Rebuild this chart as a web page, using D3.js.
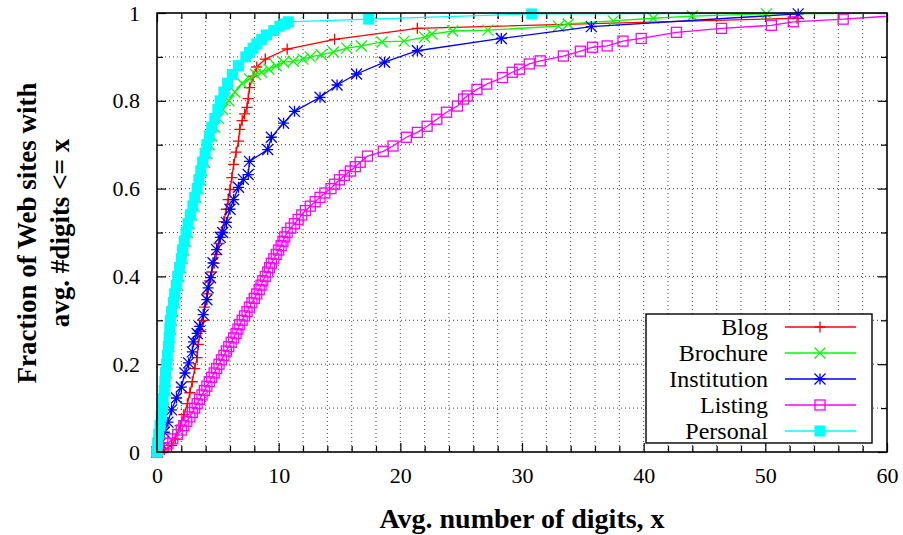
<!DOCTYPE html>
<html><head><meta charset="utf-8">
<script src="https://cdn.jsdelivr.net/npm/d3@7"></script>
<style>body{margin:0;background:#fff}svg{display:block}svg text{font-family:"Liberation Serif","Tinos","DejaVu Serif","Noto Serif","Times New Roman",Times,serif !important}</style>
</head><body><svg id="c" width="903" height="535"></svg>
<script>
const seriesNames = ["Blog","Brochure","Institution","Listing","Personal"];
const seriesColors = ["#ff0000","#00ff00","#0000ff","#ff00ff","#00ffff"];
const xTicks = [0,10,20,30,40,50,60];
const yTicks = [0,0.2,0.4,0.6,0.8,1];
const yTickLabels = ["0","0.2","0.4","0.6","0.8","1"];

const blog = [[0,0],[0.6,0.005],[1.2,0.015],[1.5,0.03],[1.9,0.06],[2.2,0.085],[2.5,0.11],[2.7,0.135],[2.9,0.16],[3.1,0.19],[3.3,0.215],[3.4,0.245],[3.6,0.275],[3.8,0.3],[3.9,0.33],[4.1,0.36],[4.3,0.39],[4.5,0.41],[4.7,0.43],[4.9,0.45],[5.1,0.475],[5.3,0.5],[5.5,0.525],[5.7,0.553],[5.85,0.575],[6.0,0.598],[6.15,0.625],[6.3,0.655],[6.5,0.683],[6.7,0.708],[6.8,0.735],[7.0,0.755],[7.2,0.77],[7.4,0.785],[7.5,0.805],[7.6,0.83],[7.9,0.856],[8.2,0.877],[8.9,0.895],[10.7,0.918],[14.6,0.94],[21.4,0.965],[52.6,0.988]];

const brochure = [[0,0],[0.1,0.02],[0.2,0.04],[0.3,0.06],[0.4,0.08],[0.5,0.1],[0.55,0.12],[0.65,0.14],[0.7,0.16],[0.75,0.18],[0.85,0.2],[0.9,0.22],[1.0,0.24],[1.05,0.26],[1.1,0.28],[1.2,0.3],[1.3,0.32],[1.45,0.34],[1.55,0.36],[1.7,0.38],[1.8,0.4],[1.95,0.42],[2.1,0.44],[2.2,0.46],[2.35,0.48],[2.5,0.5],[2.65,0.52],[2.85,0.54],[3.05,0.56],[3.2,0.58],[3.4,0.6],[3.55,0.62],[3.7,0.64],[3.9,0.66],[4.1,0.68],[4.3,0.7],[4.5,0.72],[4.75,0.74],[5.05,0.76],[5.4,0.78],[5.9,0.8],[6.4,0.82],[7.0,0.84],[7.6,0.85],[8.1,0.86],[8.6,0.865],[9.2,0.872],[9.8,0.88],[10.4,0.888],[11.2,0.89],[12.0,0.895],[12.6,0.9],[13.5,0.905],[14.5,0.911],[15.6,0.92],[16.8,0.925],[18.5,0.934],[20.3,0.936],[22.0,0.945],[22.6,0.952],[24.3,0.959],[27.2,0.961],[33.0,0.97],[33.8,0.975],[37.5,0.982],[40.8,0.988],[44.0,0.993],[50.1,0.998],[70,1]];

const institution = [[0,0],[0.3,0.02],[0.6,0.045],[0.9,0.068],[1.2,0.096],[1.6,0.123],[2.0,0.148],[2.3,0.18],[2.6,0.203],[2.9,0.228],[3.0,0.251],[3.3,0.27],[3.5,0.286],[3.8,0.313],[4.1,0.347],[4.2,0.374],[4.4,0.397],[4.6,0.431],[4.9,0.461],[5.2,0.489],[5.4,0.5],[5.7,0.523],[6.0,0.553],[6.3,0.575],[6.7,0.603],[7.1,0.621],[7.5,0.632],[7.6,0.662],[9.1,0.689],[9.4,0.717],[10.4,0.749],[11.3,0.776],[13.4,0.808],[14.8,0.836],[16.4,0.861],[18.7,0.888],[21.4,0.914],[28.3,0.942],[35.7,0.969],[52.7,0.998]];

const listing = [[0,0],[0.5,0.01],[0.9,0.02],[1.3,0.03],[1.7,0.04],[2.0,0.05],[2.2,0.06],[2.45,0.07],[2.7,0.08],[2.9,0.09],[3.1,0.1],[3.3,0.11],[3.5,0.12],[3.7,0.13],[3.9,0.14],[4.1,0.15],[4.3,0.16],[4.5,0.17],[4.7,0.18],[4.9,0.19],[5.1,0.2],[5.3,0.21],[5.5,0.22],[5.7,0.23],[5.9,0.24],[6.1,0.25],[6.3,0.26],[6.5,0.27],[6.65,0.28],[6.8,0.29],[7.0,0.3],[7.2,0.31],[7.4,0.32],[7.6,0.33],[7.8,0.34],[8.0,0.35],[8.2,0.36],[8.4,0.37],[8.55,0.38],[8.7,0.39],[8.9,0.4],[9.1,0.41],[9.25,0.42],[9.4,0.43],[9.6,0.44],[9.8,0.45],[10.0,0.46],[10.2,0.47],[10.35,0.48],[10.5,0.49],[10.7,0.5],[11.0,0.51],[11.3,0.52],[11.6,0.53],[11.9,0.54],[12.2,0.55],[12.6,0.56],[13.0,0.57],[13.4,0.58],[13.8,0.59],[14.3,0.6],[14.6,0.61],[15.0,0.62],[15.4,0.63],[15.9,0.64],[16.3,0.65],[16.7,0.66],[17.3,0.674],[18.6,0.685],[19.4,0.697],[20.5,0.717],[21.4,0.728],[22.2,0.742],[23.0,0.758],[23.8,0.774],[24.7,0.788],[25.2,0.804],[25.5,0.811],[26.3,0.826],[27.1,0.838],[28.4,0.853],[29.2,0.865],[29.8,0.872],[30.6,0.884],[31.5,0.891],[33.4,0.902],[34.8,0.913],[35.8,0.922],[37.0,0.925],[38.3,0.936],[39.8,0.942],[42.7,0.956],[46.4,0.965],[50.5,0.972],[52.3,0.98],[56.4,0.986],[64,1]];

const personal = [[0,0],[0.05,0.02],[0.15,0.04],[0.25,0.06],[0.35,0.08],[0.45,0.1],[0.5,0.12],[0.6,0.14],[0.65,0.16],[0.7,0.18],[0.8,0.2],[0.85,0.22],[0.95,0.24],[1.0,0.26],[1.05,0.28],[1.1,0.3],[1.2,0.32],[1.35,0.34],[1.45,0.36],[1.6,0.38],[1.7,0.4],[1.85,0.42],[2.0,0.44],[2.1,0.46],[2.25,0.48],[2.4,0.5],[2.55,0.52],[2.75,0.54],[2.95,0.56],[3.1,0.58],[3.3,0.6],[3.45,0.62],[3.6,0.64],[3.75,0.66],[3.95,0.68],[4.1,0.7],[4.3,0.72],[4.5,0.74],[4.75,0.76],[5.0,0.78],[5.2,0.8],[5.5,0.82],[5.8,0.84],[6.2,0.86],[6.7,0.88],[7.3,0.9],[7.6,0.91],[7.9,0.92],[8.2,0.93],[8.6,0.94],[9.0,0.95],[9.6,0.96],[10.1,0.97],[10.5,0.975],[10.8,0.98],[17.4,0.986],[30.8,0.998],[70,1]];

const allSeries = [blog, brochure, institution, listing, personal];
const markerTypes = ["plus","cross","star","square","fsquare"];

const svg = d3.select("#c");
const L=157, R=887, T=13, B=452;
const x = d3.scaleLinear().domain([0,60]).range([L,R]);
const y = d3.scaleLinear().domain([0,1]).range([B,T]);
const FONT = "'Liberation Serif','Tinos','DejaVu Serif','Noto Serif','Times New Roman',Times,serif";

const gx = d3.range(0,61,2), gy = d3.range(0,1.01,0.1);
const grid = svg.append("g").attr("stroke","#444").attr("stroke-width",1).attr("stroke-dasharray","1,3");
gx.filter(v=>v>0&&v<60).forEach(v=>grid.append("line").attr("x1",x(v)).attr("x2",x(v)).attr("y1",T).attr("y2",B));
gy.filter(v=>v>0.01&&v<0.99).forEach(v=>grid.append("line").attr("x1",L).attr("x2",R).attr("y1",y(v)).attr("y2",y(v)));

const fmtY = d => yTickLabels[yTicks.findIndex(t=>Math.abs(t-d)<1e-9)];
const ax = (g,axis)=>{g.call(axis);g.attr("font-family",FONT);g.select(".domain").remove();g.selectAll("line").attr("stroke","#000").attr("stroke-width",1.2);};
svg.append("g").attr("transform",`translate(0,${B})`).call(g=>ax(g,d3.axisBottom(x).tickValues(xTicks).tickSize(-9).tickPadding(15).tickFormat(d3.format("d"))));
svg.append("g").attr("transform",`translate(0,${B})`).call(g=>ax(g,d3.axisBottom(x).tickValues(gx.filter(v=>v%10)).tickSize(-6).tickFormat("")));
svg.append("g").attr("transform",`translate(0,${T})`).call(g=>ax(g,d3.axisTop(x).tickValues(xTicks).tickSize(-9).tickFormat("")));
svg.append("g").attr("transform",`translate(0,${T})`).call(g=>ax(g,d3.axisTop(x).tickValues(gx.filter(v=>v%10)).tickSize(-6).tickFormat("")));
svg.append("g").attr("transform",`translate(${L},0)`).call(g=>ax(g,d3.axisLeft(y).tickValues(yTicks).tickSize(-9).tickPadding(17).tickFormat(fmtY)));
svg.append("g").attr("transform",`translate(${L},0)`).call(g=>ax(g,d3.axisLeft(y).tickValues([0.1,0.3,0.5,0.7,0.9]).tickSize(-6).tickFormat("")));
svg.append("g").attr("transform",`translate(${R},0)`).call(g=>ax(g,d3.axisRight(y).tickValues(yTicks).tickSize(-9).tickFormat("")));
svg.append("g").attr("transform",`translate(${R},0)`).call(g=>ax(g,d3.axisRight(y).tickValues([0.1,0.3,0.5,0.7,0.9]).tickSize(-6).tickFormat("")));
svg.selectAll(".tick text").attr("font-size",22).attr("fill","#000");

svg.append("clipPath").attr("id","clip").append("rect").attr("x",L-7).attr("y",T-7).attr("width",R-L+14).attr("height",B-T+14);
svg.append("clipPath").attr("id","clipL").append("rect").attr("x",L).attr("y",T).attr("width",R-L).attr("height",B-T);

function marker(g,type,cx,cy,col){
  const s=5.5;
  if(type==="plus"){g.append("path").attr("d",`M${cx-s},${cy}H${cx+s}M${cx},${cy-s}V${cy+s}`).attr("stroke",col).attr("stroke-width",1.3).attr("fill","none");}
  else if(type==="cross"){g.append("path").attr("d",`M${cx-s},${cy-s}L${cx+s},${cy+s}M${cx-s},${cy+s}L${cx+s},${cy-s}`).attr("stroke",col).attr("stroke-width",1.3).attr("fill","none");}
  else if(type==="star"){g.append("path").attr("d",`M${cx-s},${cy}H${cx+s}M${cx},${cy-s}V${cy+s}M${cx-s},${cy-s}L${cx+s},${cy+s}M${cx-s},${cy+s}L${cx+s},${cy-s}`).attr("stroke",col).attr("stroke-width",1.3).attr("fill","none");}
  else if(type==="square"){g.append("rect").attr("x",cx-s+0.5).attr("y",cy-s+0.5).attr("width",2*s-1).attr("height",2*s-1).attr("stroke",col).attr("stroke-width",1.3).attr("fill","none");}
  else {g.append("rect").attr("x",cx-s).attr("y",cy-s).attr("width",2*s).attr("height",2*s).attr("fill",col);}
}

const line = d3.line().x(d=>x(d[0])).y(d=>y(d[1]));
allSeries.forEach((data,i)=>{
  const g = svg.append("g");
  g.append("path").attr("d",line(data)).attr("fill","none").attr("stroke",seriesColors[i]).attr("stroke-width",1.3).attr("clip-path","url(#clipL)");
  const mg = g.append("g").attr("clip-path","url(#clip)");
  data.filter(d=>d[0]<=60).forEach(d=>marker(mg,markerTypes[i],x(d[0]),y(d[1]),seriesColors[i]));
});

svg.append("rect").attr("x",L).attr("y",T).attr("width",R-L).attr("height",B-T).attr("fill","none").attr("stroke","#000").attr("stroke-width",1.6);

const lg = svg.append("g").attr("font-family",FONT);
lg.append("rect").attr("x",646).attr("y",314).attr("width",226).attr("height",129).attr("fill","#fff").attr("stroke","#000").attr("stroke-width",1.4);
seriesNames.forEach((n,i)=>{
  const cy = 327 + i*26;
  lg.append("text").attr("x",768).attr("y",cy+8).attr("text-anchor","end").attr("font-size",24).text(n);
  lg.append("line").attr("x1",785).attr("x2",856).attr("y1",cy).attr("y2",cy).attr("stroke",seriesColors[i]).attr("stroke-width",1.3);
  marker(lg,markerTypes[i],820,cy,seriesColors[i]);
});

svg.append("text").attr("x",522).attr("y",528).attr("text-anchor","middle").attr("font-family",FONT).attr("font-size",28).attr("font-weight","bold").text("Avg. number of digits, x");
const yl = svg.append("text").attr("transform","translate(0,233) rotate(-90)").attr("text-anchor","middle").attr("font-family",FONT).attr("font-size",27).attr("font-weight","bold");
yl.append("tspan").attr("x",0).attr("y",36).text("Fraction of Web sites with");
yl.append("tspan").attr("x",0).attr("y",69).text("avg. #digits <= x");
</script></body></html>
